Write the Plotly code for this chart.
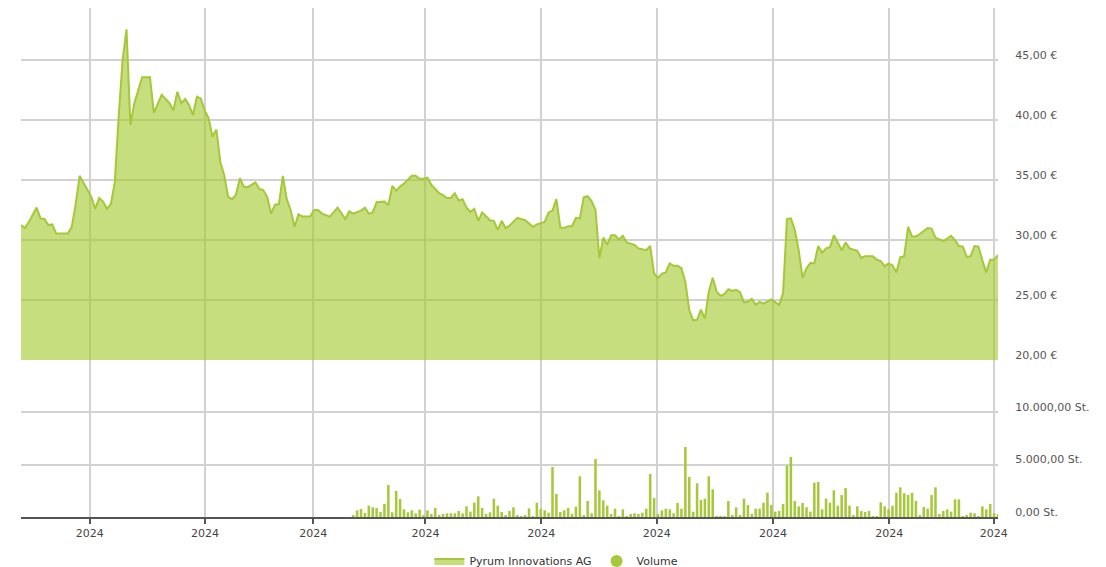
import plotly.graph_objs as go
from plotly.subplots import make_subplots

# Kurs (Handelstage als Index, Euro)
price_day = [0, 1, 2, 4, 5, 6, 7, 8, 9, 12,
             13, 14, 15, 17, 18, 19, 20, 21, 22, 23,
             24, 25, 26, 27, 28, 29, 31, 33, 34, 36,
             38, 39, 40, 41, 42, 43, 44, 45, 46, 47,
             48, 49, 50, 51, 52, 53, 54, 55, 56, 57,
             58, 60, 61, 62, 63, 64, 65, 66, 67, 68,
             69, 70, 71, 72, 74, 75, 76, 77, 79, 81,
             83, 84, 85, 87, 88, 89, 90, 91, 93, 94,
             95, 96, 97, 98, 100, 101, 102, 103, 104, 105,
             107, 108, 109, 110, 111, 112, 113, 114, 115, 116,
             117, 118, 120, 121, 122, 123, 124, 125, 127, 129,
             131, 132, 134, 135, 136, 137, 138, 139, 140, 141,
             142, 143, 144, 145, 146, 147, 148, 149, 150, 151,
             152, 153, 154, 155, 157, 158, 160, 161, 162, 163,
             164, 165, 166, 167, 168, 169, 170, 171, 172, 173,
             174, 175, 176, 177, 178, 179, 180, 181, 182, 183,
             184, 185, 186, 187, 188, 189, 190, 192, 193, 194,
             195, 196, 197, 198, 199, 200, 201, 202, 203, 204,
             205, 206, 207, 208, 209, 210, 211, 212, 214, 215,
             216, 218, 219, 220, 221, 222, 223, 224, 225, 226,
             227, 228, 229, 230, 232, 233, 234, 235, 236, 238,
             239, 240, 241, 242, 243, 244, 245, 246, 247, 248,
             249, 250]
price_eur = [31.25, 31.0, 31.5, 32.7, 31.8, 31.75, 31.25, 31.3, 30.55, 30.55,
             31.1, 33.0, 35.35, 34.1, 33.6, 32.6, 33.5, 33.2, 32.6, 33.0,
             34.8, 40.3, 45.0, 47.55, 39.6, 41.4, 43.55, 43.55, 40.6, 42.1,
             41.4, 40.8, 42.35, 41.4, 41.75, 41.25, 40.4, 41.95, 41.8, 40.8,
             40.15, 38.6, 39.2, 36.5, 35.4, 33.6, 33.4, 33.75, 35.15, 34.45,
             34.4, 34.8, 34.25, 34.15, 33.6, 32.2, 32.95, 33.0, 35.35, 33.4,
             32.5, 31.1, 32.15, 31.95, 31.95, 32.5, 32.5, 32.2, 31.95, 32.7,
             31.75, 32.4, 32.2, 32.45, 32.7, 32.2, 32.3, 33.15, 33.2, 32.9,
             34.5, 34.1, 34.45, 34.7, 35.35, 35.35, 35.1, 35.1, 35.2, 34.6,
             33.9, 33.75, 33.5, 33.5, 33.9, 33.3, 33.4, 32.7, 32.35, 32.6,
             31.6, 32.3, 31.65, 31.6, 30.85, 31.6, 31.0, 31.2, 31.85, 31.65,
             31.1, 31.3, 31.5, 32.3, 32.45, 33.4, 31.05, 31.0, 31.15, 31.15,
             31.85, 31.8, 33.55, 33.65, 33.25, 32.5, 28.5, 30.2, 29.6, 30.4,
             30.4, 30.05, 30.35, 29.8, 29.6, 29.3, 29.15, 29.5, 27.2, 26.85,
             27.2, 27.3, 28.05, 27.85, 27.85, 27.65, 26.5, 24.15, 23.3, 23.35,
             24.2, 23.45, 25.7, 26.85, 25.7, 25.35, 25.5, 25.9, 25.75, 25.85,
             25.65, 24.8, 24.85, 25.1, 24.6, 24.85, 24.7, 25.05, 24.8, 24.6,
             25.55, 31.75, 31.8, 30.85, 29.15, 26.85, 27.65, 28.1, 28.05, 29.5,
             28.95, 29.3, 29.4, 30.4, 29.8, 29.15, 29.8, 29.3, 29.1, 28.5,
             28.65, 28.65, 28.35, 28.25, 27.8, 28.05, 27.9, 27.3, 28.55, 28.65,
             31.1, 30.3, 30.3, 30.5, 31.0, 30.95, 30.2, 30.05, 29.9, 30.35,
             30.0, 29.5, 29.45, 28.6, 28.65, 29.5, 29.45, 28.3, 27.3, 28.35,
             28.35, 28.75]

# Volumen in Stueck, ab Handelstag 85
vol_start = 85
vol_st = [190, 635, 760, 380, 1080, 920, 860, 475, 1240, 3050,
          445, 2480, 1715, 730, 445, 635, 350, 700, 125, 635,
          285, 860, 125, 285, 350, 350, 350, 570, 350, 1015,
          510, 1365, 1970, 860, 285, 445, 1745, 1080, 475, 190,
          570, 920, 125, 60, 95, 825, 60, 1365, 760, 635,
          410, 4760,
          2190, 475, 635, 860, 285, 985, 3875, 190, 1525, 350,
          5525, 2540, 1590, 1080, 285, 795, 60, 730, 60, 285,
          350, 285, 410, 795, 4095, 1810, 285, 635, 795, 730,
          350, 1335, 795, 6665, 3810, 510, 3205, 1620, 1745, 3875,
          2635, 60, 30, 30, 1525, 125, 920, 95, 1745, 1145,
          285, 795, 795, 1365, 2315, 1145, 510,
          570, 1240, 4890, 5715, 1525, 1015, 1335, 920, 510, 3270,
          3335, 730, 1745, 1365, 2540, 1080, 2095, 2760, 1080, 190,
          1015, 570, 475, 570, 30, 60, 1400, 1015, 730, 1080,
          2315, 2825, 2255, 2095, 2315, 1525, 190, 950, 795, 2095,
          2825, 285, 570, 730, 510, 1680, 1680, 60, 190, 410,
          350, 30, 1015, 730, 1240, 350, 285]
vol_day = [vol_start + i for i in range(len(vol_st))]

# Achsenbeschriftung
x_tickvals = [17.6, 47.1, 74.8, 103.5, 133.1, 162.7, 192.4, 222.2, 248.9]
x_ticktext = ['2024'] * len(x_tickvals)
price_ticks = [20, 25, 30, 35, 40, 45]
price_labels = ['20,00 €', '25,00 €', '30,00 €', '35,00 €', '40,00 €', '45,00 €']
vol_ticks = [0, 5000, 10000]
vol_labels = ['0,00 St.', '5.000,00 St.', '10.000,00 St.']

LINE = '#a5c838'
FILL = 'rgba(160,200,40,0.6)'
BAR = '#a6c83a'
GRID = '#d2d2d2'
FONT = 'DejaVu Sans'

fig = make_subplots(rows=2, cols=1, shared_xaxes=True, vertical_spacing=0,
                    row_heights=[0.6916, 0.3084])

fig.add_trace(go.Scatter(x=price_day, y=price_eur, mode='lines', fill='tozeroy',
                         line={'color': LINE, 'width': 2}, fillcolor=FILL,
                         name='Pyrum Innovations AG'), row=1, col=1)
fig.add_trace(go.Bar(x=vol_day, y=vol_st, marker={'color': BAR, 'line': {'width': 0}},
                     name='Volume', showlegend=False), row=2, col=1)
# nur fuer den Legendeneintrag (Kreis)
fig.add_trace(go.Scatter(x=[None], y=[None], mode='markers',
                         marker={'color': BAR, 'size': 12}, name='Volume'), row=2, col=1)

xax = dict(range=[0, 250], tickvals=x_tickvals, ticktext=x_ticktext,
           showgrid=True, gridcolor=GRID, gridwidth=2, zeroline=False)
fig.update_xaxes(**xax)
fig.update_xaxes(showticklabels=False, ticks='', row=1, col=1)
fig.update_xaxes(ticks='outside', ticklen=5, tickcolor='#555', tickwidth=1.5,
                 showline=True, linecolor='#555', linewidth=1.5,
                 tickfont={'family': FONT, 'size': 11, 'color': '#444'}, row=2, col=1)

yfont = {'family': FONT, 'size': 11, 'color': '#555'}
fig.update_yaxes(side='right', range=[20, 49.33], tickvals=price_ticks, ticktext=price_labels,
                 showgrid=True, gridcolor=GRID, gridwidth=2, zeroline=False,
                 ticks='outside', ticklen=14, tickcolor='rgba(0,0,0,0)', ticklabelshift=-5,
                 tickfont=yfont, row=1, col=1)
fig.update_yaxes(side='right', range=[0, 14950], tickvals=vol_ticks, ticktext=vol_labels,
                 showgrid=True, gridcolor=GRID, gridwidth=2, zeroline=False,
                 ticks='outside', ticklen=14, tickcolor='rgba(0,0,0,0)', ticklabelshift=-5,
                 tickfont=yfont, row=2, col=1)

# Seite hat 8px Rand -> Ränder entsprechend kleiner
fig.update_layout(
    width=1098, height=579,
    margin={'l': 13, 'r': 108, 't': 0, 'b': 70},
    paper_bgcolor='white', plot_bgcolor='white',
    bargap=0.35,
    showlegend=True,
    legend={'orientation': 'h', 'x': 0.548, 'xanchor': 'center', 'y': -0.0864, 'yanchor': 'middle',
            'font': {'family': FONT, 'size': 11, 'color': '#333'}},
)

fig.write_html("out.html")
